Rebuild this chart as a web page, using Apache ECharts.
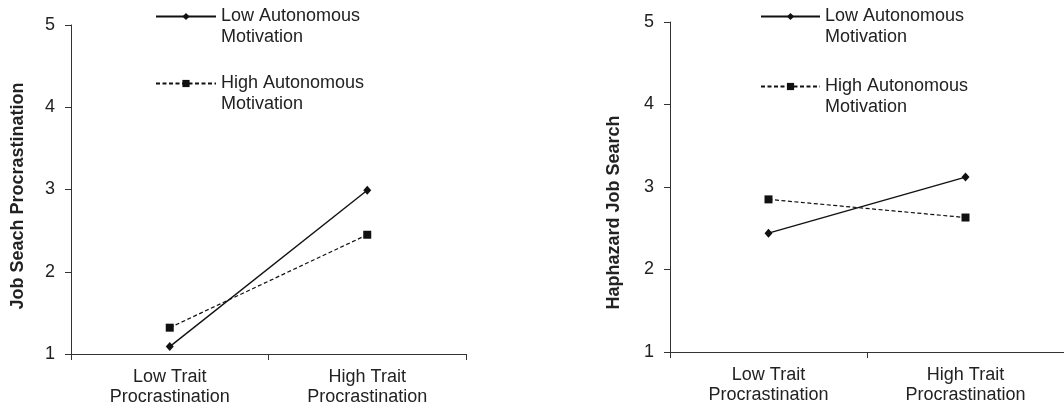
<!DOCTYPE html>
<html>
<head>
<meta charset="utf-8">
<script src="https://cdn.jsdelivr.net/npm/echarts@6/dist/echarts.min.js"></script>
<style>
html,body{margin:0;padding:0;background:#fff;}
#c{width:1064px;height:405px;}
</style>
</head>
<body>
<div id="c"></div>
<script>
// ---- data ----
var categories = ['Low Trait\nProcrastination', 'High Trait\nProcrastination'];
var seriesNames = ['Low Autonomous\nMotivation', 'High Autonomous\nMotivation'];
var yTicks = [1, 2, 3, 4, 5];
var leftTitle = 'Job Seach Procrastination';
var rightTitle = 'Haphazard Job Search';
var leftLowAuto = [1.09, 2.99];
var leftHighAuto = [1.32, 2.45];
var rightLowAuto = [2.44, 3.12];
var rightHighAuto = [2.85, 2.63];

var FONT = '"Liberation Sans", Arial, Helvetica, sans-serif';
var TXT = '#222';
var AX = '#333';

function xAxis(gi) {
  return {
    type: 'category', gridIndex: gi, data: categories, boundaryGap: true,
    axisLine: {lineStyle: {color: AX, width: 1}},
    axisTick: {show: true, length: 6, alignWithLabel: false, lineStyle: {color: AX}},
    axisLabel: {interval: 0, color: TXT, fontSize: 18, fontFamily: FONT, lineHeight: 20, margin: 13},
    splitLine: {show: false}
  };
}
function yAxis(gi, name, gap, pad) {
  return {
    type: 'value', gridIndex: gi, min: yTicks[0], max: yTicks[yTicks.length - 1], interval: 1,
    name: name, nameLocation: 'middle', nameGap: gap,
    nameTextStyle: {color: TXT, fontSize: 18, fontWeight: 'bold', fontFamily: FONT, padding: pad},
    axisLine: {show: true, lineStyle: {color: AX, width: 1}},
    axisTick: {show: true, length: 6, lineStyle: {color: AX}},
    axisLabel: {color: TXT, fontSize: 18, fontFamily: FONT, margin: 16},
    splitLine: {show: false}
  };
}
function lowSeries(gi, data) {
  return {
    name: seriesNames[0], type: 'line', xAxisIndex: gi, yAxisIndex: gi, data: data,
    symbol: 'diamond', symbolSize: [8, 9],
    lineStyle: {color: '#111', width: 1.4, type: 'solid'},
    itemStyle: {color: '#111'}, animation: false
  };
}
function highSeries(gi, data) {
  return {
    name: seriesNames[1], type: 'line', xAxisIndex: gi, yAxisIndex: gi, data: data,
    symbol: 'rect', symbolSize: 8,
    lineStyle: {color: '#111', width: 1.2, type: [4, 2.5]},
    itemStyle: {color: '#111'}, animation: false
  };
}
function legend(left, top, gap, w) {
  return {
    orient: 'vertical', left: left, top: top, padding: 0, itemGap: gap,
    itemWidth: w, itemHeight: 9, selectedMode: false,
    data: seriesNames,
    formatter: function (n) { return ' \n' + n; },
    textStyle: {color: TXT, fontSize: 18, fontFamily: FONT, lineHeight: 21}
  };
}

var chart = echarts.init(document.getElementById('c'), null, {renderer: 'canvas'});
chart.setOption({
  animation: false,
  backgroundColor: '#fff',
  grid: [
    {left: 71, top: 25, width: 395, height: 329, containLabel: false, outerBoundsMode: 'none'},
    {left: 670, top: 22, width: 394, height: 330, containLabel: false, outerBoundsMode: 'none'}
  ],
  xAxis: [xAxis(0), xAxis(1)],
  yAxis: [yAxis(0, leftTitle, 44, [0, 13, 0, 0]), yAxis(1, rightTitle, 47, [0, 51, 0, 0])],
  legend: [legend(155, -15, 4, 60), legend(760, -15, 7, 59)],
  series: [
    lowSeries(0, leftLowAuto), highSeries(0, leftHighAuto),
    lowSeries(1, rightLowAuto), highSeries(1, rightHighAuto)
  ]
});
</script>
</body>
</html>
